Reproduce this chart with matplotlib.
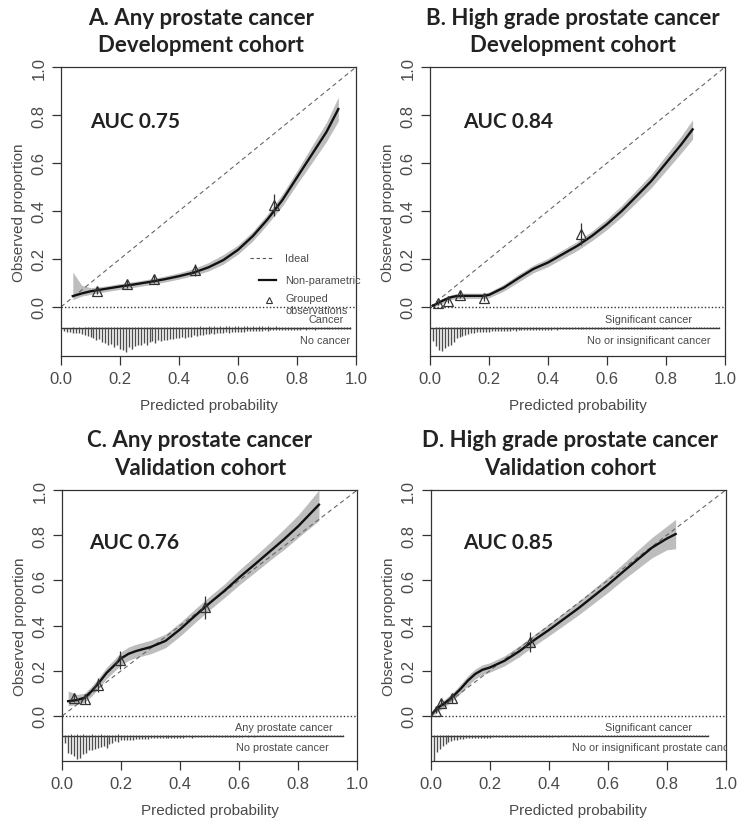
import numpy as np
import matplotlib.pyplot as plt

# calibration curves
a_x = [0.04, 0.07, 0.1, 0.15, 0.2, 0.25, 0.3, 0.35, 0.4, 0.45, 0.5, 0.55, 0.6, 0.65, 0.7, 0.75, 0.8, 0.85, 0.9, 0.94]
a_y = [0.045, 0.056, 0.065, 0.075, 0.085, 0.094, 0.104, 0.115, 0.128, 0.143, 0.165, 0.195, 0.238, 0.295, 0.365, 0.445, 0.54, 0.635, 0.73, 0.825]
a_lo = [0.03, 0.045, 0.052, 0.063, 0.073, 0.082, 0.092, 0.103, 0.116, 0.13, 0.15, 0.178, 0.22, 0.275, 0.345, 0.42, 0.512, 0.6, 0.69, 0.775]
a_hi = [0.145, 0.09, 0.08, 0.087, 0.097, 0.106, 0.116, 0.128, 0.142, 0.16, 0.185, 0.218, 0.258, 0.315, 0.387, 0.47, 0.568, 0.67, 0.77, 0.875]

b_x = [0.01, 0.03, 0.05, 0.07, 0.09, 0.12, 0.15, 0.18, 0.2, 0.225, 0.25, 0.3, 0.35, 0.4, 0.45, 0.5, 0.55, 0.6, 0.65, 0.7, 0.75, 0.8, 0.85, 0.89]
b_y = [0.005, 0.018, 0.03, 0.04, 0.045, 0.046, 0.046, 0.046, 0.05, 0.065, 0.08, 0.12, 0.158, 0.185, 0.22, 0.255, 0.297, 0.345, 0.4, 0.462, 0.525, 0.6, 0.675, 0.74]
b_lo = [0.0, 0.008, 0.02, 0.03, 0.034, 0.035, 0.035, 0.035, 0.038, 0.052, 0.066, 0.104, 0.142, 0.168, 0.202, 0.236, 0.277, 0.323, 0.376, 0.436, 0.497, 0.568, 0.64, 0.7]
b_hi = [0.012, 0.028, 0.04, 0.05, 0.056, 0.057, 0.057, 0.057, 0.062, 0.078, 0.094, 0.136, 0.174, 0.202, 0.238, 0.274, 0.317, 0.367, 0.424, 0.488, 0.553, 0.632, 0.71, 0.78]

c_x = [0.02, 0.05, 0.075, 0.1, 0.125, 0.15, 0.175, 0.2, 0.225, 0.25, 0.3, 0.35, 0.4, 0.45, 0.5, 0.55, 0.6, 0.65, 0.7, 0.75, 0.8, 0.87]
c_y = [0.065, 0.07, 0.08, 0.11, 0.148, 0.19, 0.222, 0.255, 0.275, 0.287, 0.305, 0.332, 0.384, 0.443, 0.5, 0.554, 0.613, 0.668, 0.724, 0.78, 0.84, 0.935]
c_lo = [0.045, 0.05, 0.06, 0.088, 0.125, 0.165, 0.196, 0.226, 0.246, 0.258, 0.275, 0.302, 0.354, 0.413, 0.47, 0.524, 0.58, 0.632, 0.685, 0.735, 0.79, 0.865]
c_hi = [0.11, 0.095, 0.1, 0.132, 0.171, 0.215, 0.248, 0.284, 0.305, 0.317, 0.335, 0.362, 0.414, 0.473, 0.53, 0.584, 0.646, 0.704, 0.763, 0.825, 0.89, 1.0]

d_x = [0.006, 0.025, 0.05, 0.075, 0.1, 0.125, 0.15, 0.175, 0.2, 0.25, 0.3, 0.35, 0.4, 0.45, 0.5, 0.55, 0.6, 0.65, 0.7, 0.75, 0.8, 0.83]
d_y = [0.012, 0.037, 0.059, 0.086, 0.118, 0.155, 0.185, 0.204, 0.214, 0.244, 0.286, 0.335, 0.38, 0.428, 0.476, 0.528, 0.58, 0.636, 0.691, 0.745, 0.785, 0.805]
d_lo = [0.0, 0.02, 0.042, 0.068, 0.098, 0.133, 0.163, 0.182, 0.193, 0.222, 0.262, 0.31, 0.354, 0.4, 0.446, 0.496, 0.546, 0.6, 0.65, 0.7, 0.735, 0.74]
d_hi = [0.025, 0.054, 0.076, 0.104, 0.138, 0.177, 0.207, 0.226, 0.235, 0.266, 0.31, 0.36, 0.406, 0.456, 0.506, 0.56, 0.614, 0.672, 0.732, 0.79, 0.84, 0.87]

# grouped observations: x, y, half-length of error bar
a_px = [0.123, 0.223, 0.316, 0.454, 0.722]
a_py = [0.067, 0.095, 0.116, 0.155, 0.426]
a_pe = [0.015, 0.015, 0.018, 0.025, 0.045]
b_px = [0.026, 0.06, 0.1, 0.182, 0.511]
b_py = [0.015, 0.025, 0.05, 0.039, 0.304]
b_pe = [0.008, 0.01, 0.015, 0.015, 0.045]
c_px = [0.04, 0.077, 0.12, 0.196, 0.485]
c_py = [0.081, 0.074, 0.136, 0.248, 0.48]
c_pe = [0.02, 0.02, 0.03, 0.04, 0.05]
d_px = [0.017, 0.036, 0.072, 0.337]
d_py = [0.022, 0.059, 0.077, 0.328]
d_pe = [0.01, 0.015, 0.02, 0.045]

# spike histograms of predicted risk, bins of 0.01 starting at 0.01
a_no = [0.012, 0.014, 0.016, 0.018, 0.020, 0.022, 0.026, 0.028, 0.032, 0.036,
        0.040, 0.050, 0.045, 0.058, 0.062, 0.070, 0.065, 0.078, 0.072, 0.085,
        0.090, 0.098, 0.080, 0.088, 0.075, 0.070, 0.068, 0.062, 0.070, 0.058,
        0.055, 0.060, 0.050, 0.052, 0.048, 0.050, 0.044, 0.046, 0.040, 0.042,
        0.038, 0.040, 0.035, 0.036, 0.030, 0.032, 0.028, 0.030, 0.025, 0.026,
        0.022, 0.024, 0.021, 0.019, 0.020, 0.017, 0.018, 0.015, 0.016, 0.014,
        0.014, 0.015, 0.012, 0.013, 0.011, 0.012, 0.010, 0.011, 0.009, 0.010,
        0.009, 0.008, 0.009, 0.007, 0.008, 0.007, 0.008, 0.006, 0.007, 0.006,
        0.006, 0.005, 0.006, 0.005, 0.005, 0.006, 0.004, 0.005, 0.005, 0.004,
        0.004, 0.003, 0.004, 0.003, 0.004, 0.003, 0.003, 0.003]
a_yes = [0.002, 0.002, 0.002, 0.003, 0.002, 0.003, 0.002, 0.003, 0.003, 0.003,
         0.003, 0.004, 0.003, 0.004, 0.003, 0.004, 0.004, 0.003, 0.004, 0.004,
         0.004, 0.005, 0.004, 0.005, 0.004, 0.005, 0.004, 0.005, 0.005, 0.004,
         0.005, 0.006, 0.005, 0.005, 0.006, 0.005, 0.006, 0.005, 0.006, 0.006,
         0.006, 0.007, 0.006, 0.007, 0.006, 0.007, 0.008, 0.006, 0.007, 0.008,
         0.007, 0.009, 0.007, 0.008, 0.007, 0.009, 0.008, 0.007, 0.009, 0.008,
         0.007, 0.008, 0.009, 0.007, 0.008, 0.007, 0.009, 0.008, 0.006, 0.008,
         0.007, 0.006, 0.008, 0.006, 0.007, 0.006, 0.007, 0.005, 0.006, 0.007,
         0.005, 0.006, 0.005, 0.006, 0.005, 0.006, 0.005, 0.004, 0.005, 0.006,
         0.004, 0.005, 0.004, 0.005, 0.004, 0.004, 0.005, 0.004]
b_no = [0.055, 0.076, 0.090, 0.097, 0.083, 0.076, 0.070, 0.056, 0.040, 0.035,
        0.032, 0.028, 0.025, 0.021, 0.018, 0.017, 0.016, 0.015, 0.014, 0.014,
        0.013, 0.012, 0.012, 0.011, 0.011, 0.010, 0.010, 0.009, 0.010, 0.009,
        0.008, 0.009, 0.008, 0.007, 0.008, 0.007, 0.007, 0.006, 0.007, 0.006,
        0.006, 0.005, 0.006, 0.005, 0.005, 0.005, 0.004, 0.005, 0.004, 0.004,
        0.004, 0.004, 0.003, 0.004, 0.003, 0.004, 0.003, 0.003, 0.003, 0.003,
        0.003, 0.003, 0.002, 0.003, 0.003, 0.002, 0.003, 0.002, 0.002, 0.003,
        0.002, 0.002, 0.002, 0.002, 0.002, 0.002, 0.002, 0.001, 0.002, 0.002,
        0.001, 0.002, 0.001, 0.001, 0.002, 0.001, 0.001, 0.001, 0.001, 0.001,
        0.001, 0.001, 0.001, 0.001, 0.001, 0.001, 0.001, 0.001]
b_yes = [0.002, 0.003, 0.003, 0.003, 0.003, 0.003, 0.003, 0.003, 0.003, 0.003,
         0.003, 0.003, 0.003, 0.003, 0.003, 0.003, 0.003, 0.003, 0.003, 0.003,
         0.003, 0.003, 0.003, 0.003, 0.003, 0.003, 0.003, 0.003, 0.003, 0.003,
         0.003, 0.003, 0.003, 0.003, 0.003, 0.003, 0.003, 0.003, 0.003, 0.003,
         0.003, 0.003, 0.003, 0.003, 0.003, 0.003, 0.003, 0.003, 0.003, 0.003,
         0.003, 0.004, 0.003, 0.004, 0.003, 0.004, 0.003, 0.004, 0.003, 0.004,
         0.003, 0.004, 0.003, 0.004, 0.003, 0.004, 0.003, 0.004, 0.003, 0.004,
         0.003, 0.004, 0.003, 0.004, 0.003, 0.004, 0.003, 0.004, 0.003, 0.004,
         0.003, 0.004, 0.003, 0.004, 0.003, 0.004, 0.003, 0.004, 0.003, 0.004,
         0.003, 0.004, 0.003, 0.004, 0.003, 0.004, 0.003, 0.004]
c_no = [0.030, 0.077, 0.081, 0.089, 0.103, 0.096, 0.081, 0.074, 0.062, 0.060,
        0.056, 0.052, 0.048, 0.044, 0.052, 0.037, 0.030, 0.022, 0.027, 0.020,
        0.018, 0.017, 0.016, 0.018, 0.014, 0.015, 0.013, 0.012, 0.013, 0.011,
        0.010, 0.011, 0.009, 0.010, 0.008, 0.009, 0.008, 0.007, 0.008, 0.007,
        0.007, 0.006, 0.006, 0.007, 0.005, 0.006, 0.005, 0.005, 0.004, 0.005,
        0.004, 0.004, 0.003, 0.004, 0.003, 0.003, 0.004, 0.003, 0.003, 0.003,
        0.003, 0.002, 0.003, 0.002, 0.003, 0.002, 0.002, 0.002, 0.002, 0.002,
        0.002, 0.002, 0.001, 0.002, 0.002, 0.001, 0.002, 0.001, 0.001, 0.002,
        0.001, 0.001, 0.001, 0.001, 0.001, 0.001, 0.001, 0.001, 0.001, 0.001,
        0.001, 0.001, 0.001, 0.001, 0.001]
c_yes = [0.004, 0.006, 0.007, 0.006, 0.007, 0.006, 0.007, 0.006, 0.006, 0.007,
         0.006, 0.006, 0.007, 0.005, 0.006, 0.006, 0.005, 0.006, 0.007, 0.005,
         0.005, 0.006, 0.005, 0.004, 0.005, 0.006, 0.004, 0.005, 0.004, 0.005,
         0.004, 0.005, 0.004, 0.004, 0.005, 0.004, 0.004, 0.005, 0.004, 0.004,
         0.004, 0.004, 0.005, 0.004, 0.004, 0.004, 0.005, 0.004, 0.004, 0.004,
         0.004, 0.005, 0.004, 0.004, 0.004, 0.005, 0.004, 0.004, 0.004, 0.005,
         0.004, 0.004, 0.004, 0.005, 0.004, 0.004, 0.004, 0.005, 0.004, 0.004,
         0.004, 0.004, 0.005, 0.004, 0.004, 0.004, 0.005, 0.004, 0.004, 0.005,
         0.004, 0.004, 0.005, 0.004, 0.004, 0.005, 0.004, 0.004, 0.005, 0.004,
         0.004, 0.005, 0.004, 0.004, 0.005]
d_no = [0.109, 0.069, 0.059, 0.044, 0.035, 0.025, 0.021, 0.018, 0.016, 0.014,
        0.012, 0.011, 0.010, 0.010, 0.009, 0.008, 0.008, 0.007, 0.007, 0.007,
        0.006, 0.006, 0.006, 0.005, 0.005, 0.005, 0.005, 0.004, 0.004, 0.004,
        0.004, 0.004, 0.003, 0.004, 0.003, 0.003, 0.003, 0.003, 0.003, 0.003,
        0.003, 0.002, 0.003, 0.002, 0.002, 0.002, 0.002, 0.002, 0.002, 0.002,
        0.002, 0.002, 0.002, 0.001, 0.002, 0.001, 0.002, 0.001, 0.001, 0.001,
        0.001, 0.001, 0.001, 0.001, 0.001, 0.001, 0.001, 0.001, 0.001, 0.001,
        0.001, 0.001, 0.001, 0.001, 0.001, 0.001, 0.001, 0.001, 0.001, 0.001,
        0.001, 0.001, 0.001, 0.001, 0.001, 0.001, 0.001, 0.001, 0.001, 0.001,
        0.001, 0.001, 0.001, 0.001]
d_yes = [0.003, 0.003, 0.003, 0.003, 0.003, 0.003, 0.003, 0.003, 0.003, 0.003,
         0.003, 0.003, 0.003, 0.003, 0.003, 0.003, 0.003, 0.003, 0.003, 0.003,
         0.003, 0.003, 0.003, 0.003, 0.003, 0.003, 0.003, 0.003, 0.003, 0.003,
         0.003, 0.003, 0.003, 0.003, 0.003, 0.003, 0.003, 0.003, 0.003, 0.003,
         0.003, 0.003, 0.003, 0.003, 0.003, 0.003, 0.003, 0.003, 0.003, 0.003,
         0.003, 0.003, 0.003, 0.003, 0.003, 0.003, 0.003, 0.003, 0.003, 0.003,
         0.003, 0.003, 0.003, 0.003, 0.003, 0.003, 0.003, 0.003, 0.003, 0.003,
         0.003, 0.003, 0.003, 0.003, 0.003, 0.003, 0.003, 0.003, 0.003, 0.003,
         0.003, 0.003, 0.003, 0.003, 0.003, 0.003, 0.003, 0.003, 0.003, 0.003,
         0.003, 0.003, 0.003, 0.003]

titles = ['A. Any prostate cancer\nDevelopment cohort',
          'B. High grade prostate cancer\nDevelopment cohort',
          'C. Any prostate cancer\nValidation cohort',
          'D. High grade prostate cancer\nValidation cohort']
aucs = ['AUC 0.75', 'AUC 0.84', 'AUC 0.76', 'AUC 0.85']
yes_labels = ['Cancer', 'Significant cancer', 'Any prostate cancer', 'Significant cancer']
no_labels = ['No cancer', 'No or insignificant cancer', 'No prostate cancer',
             'No or insignificant prostate cancer']

GREY = '#4a4a4a'
BASE = -0.089
plt.rcParams['font.family'] = ['Liberation Sans', 'DejaVu Sans']


def panel(ax, cx, cy, lo, hi, px, py, pe, no, yes, auc, auc_xy, lab_yes, lab_no, ylo):
    ax.set_xlim(0, 1)
    ax.set_ylim(ylo, 1.0)
    ax.plot([0, 1], [0, 1], color='#666666', lw=0.8, dashes=(4, 3))
    ax.axhline(0, color='#333333', lw=1.0, ls=(0, (1, 1.5)))
    ax.fill_between(cx, lo, hi, color='#bdbdbd', lw=0)
    ax.plot(cx, cy, color='#111111', lw=1.7)
    ax.errorbar(px, py, yerr=pe, fmt='^', ms=6.5, mfc='none', mec='#333333',
                mew=0.9, ecolor='#333333', elinewidth=0.9, capsize=0)
    # spike histogram
    bins = np.arange(1, len(no) + 1) / 100
    ax.plot([0.003, bins[-1]], [BASE, BASE], color='#333333', lw=1.0)
    ax.vlines(bins, BASE - np.array(no), BASE, color='#4d4d4d', lw=1.0)
    ax.vlines(bins, BASE, BASE + np.array(yes), color='#4d4d4d', lw=0.8)
    ax.text(auc_xy[0], auc_xy[1], auc, fontsize=15, fontweight='bold',
            family=['Lato', 'DejaVu Sans'], color='#222222', va='center', ha='left')
    ax.text(lab_yes[0], -0.049, lab_yes[1], fontsize=7.8, color=GREY, ha='right', va='center')
    t = ax.text(lab_no[0], -0.139, lab_no[1], fontsize=7.8, color=GREY, ha=lab_no[2], va='center')
    t.set_clip_on(True)

    ax.set_xticks([0, 0.2, 0.4, 0.6, 0.8, 1.0])
    ax.set_xticklabels(['0.0', '0.2', '0.4', '0.6', '0.8', '1.0'])
    ax.set_yticks([0, 0.2, 0.4, 0.6, 0.8, 1.0])
    ax.set_yticklabels(['0.0', '0.2', '0.4', '0.6', '0.8', '1.0'], rotation=90, va='center')
    ax.tick_params(length=6.5, width=0.9, color='#333333', labelsize=12,
                   labelcolor=GREY, pad=4)
    for s in ax.spines.values():
        s.set_color('#333333')
        s.set_linewidth(0.9)
    ax.set_xlabel('Predicted probability', fontsize=11, color=GREY, labelpad=9)
    ax.set_ylabel('Observed proportion', fontsize=11, color=GREY, labelpad=4)


fig = plt.figure(figsize=(7.37, 8.2), dpi=100)
axA = fig.add_axes([0.0828, 0.5646, 0.4003, 0.3524])
axB = fig.add_axes([0.5835, 0.5646, 0.4003, 0.3524])
axC = fig.add_axes([0.0845, 0.0707, 0.4003, 0.3305])
axD = fig.add_axes([0.5845, 0.0707, 0.4003, 0.3305])

panel(axA, a_x, a_y, a_lo, a_hi, a_px, a_py, a_pe, a_no, a_yes, aucs[0], (0.098, 0.775),
      (0.957, yes_labels[0]), (0.98, no_labels[0], 'right'), -0.205)
panel(axB, b_x, b_y, b_lo, b_hi, b_px, b_py, b_pe, b_no, b_yes, aucs[1], (0.111, 0.777),
      (0.887, yes_labels[1]), (0.949, no_labels[1], 'right'), -0.205)
panel(axC, c_x, c_y, c_lo, c_hi, c_px, c_py, c_pe, c_no, c_yes, aucs[2], (0.092, 0.768),
      (0.915, yes_labels[2]), (0.904, no_labels[2], 'right'), -0.2)
panel(axD, d_x, d_y, d_lo, d_hi, d_px, d_py, d_pe, d_no, d_yes, aucs[3], (0.111, 0.768),
      (0.886, yes_labels[3]), (0.48, no_labels[3], 'left'), -0.2)

# legend of panel A
axA.plot([0.64, 0.72], [0.205, 0.205], color='#555555', lw=0.8, dashes=(3, 2.5))
axA.plot([0.67, 0.73], [0.114, 0.114], color='#111111', lw=1.6)
axA.plot([0.705], [0.027], marker='^', ms=5, mfc='none', mec='#333333', mew=0.8)
axA.text(0.76, 0.205, 'Ideal', fontsize=7.8, color=GREY, va='center')
axA.text(0.76, 0.114, 'Non-parametric', fontsize=7.8, color=GREY, va='center')
axA.text(0.76, 0.037, 'Grouped', fontsize=7.8, color=GREY, va='center')
axA.text(0.76, -0.011, 'observations', fontsize=7.8, color=GREY, va='center')

title_pos = [(0.273, 0.961), (0.777, 0.961), (0.271, 0.446), (0.773, 0.446)]
for (tx, ty), t in zip(title_pos, titles):
    fig.text(tx, ty, t, ha='center', va='center', fontsize=16, fontweight='bold',
             family=['Lato', 'DejaVu Sans'], color='#222222', linespacing=1.38)

fig.savefig('out.png', dpi=100)
